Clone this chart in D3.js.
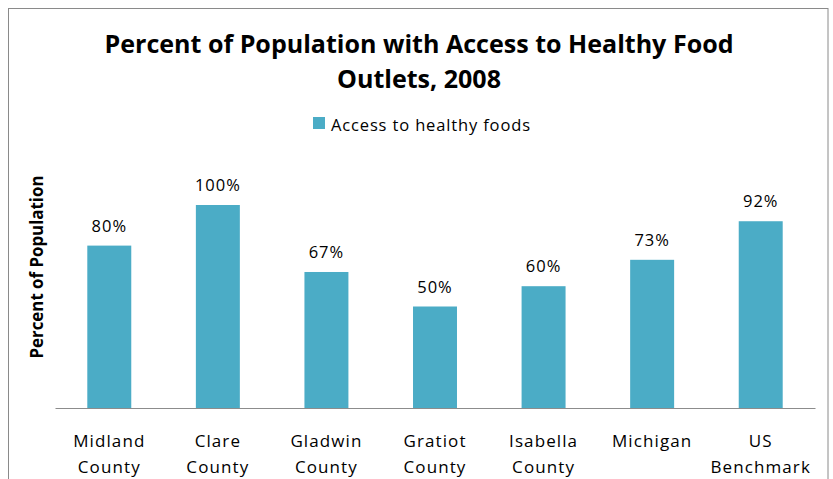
<!DOCTYPE html>
<html>
<head>
<meta charset="utf-8">
<script src="https://cdn.jsdelivr.net/npm/d3@7"></script>
<style>
  html, body { margin: 0; padding: 0; background: #fff; }
  svg { display: block; }
  text { font-family: "Open Sans", "Liberation Sans", sans-serif; fill: #000; }
</style>
</head>
<body>
<svg id="chart" width="833" height="479"></svg>
<script>
// Percent of population with access to healthy food outlets, 2008
const categories = [
  ["Midland", "County"],
  ["Clare", "County"],
  ["Gladwin", "County"],
  ["Gratiot", "County"],
  ["Isabella", "County"],
  ["Michigan"],
  ["US", "Benchmark"]
];
const accessValues = [80, 100, 67, 50, 60, 73, 92];
const titleLines = ["Percent of Population with Access to Healthy Food", "Outlets, 2008"];
const seriesName = "Access to healthy foods";
const yAxisTitle = "Percent of Population";

const svg = d3.select("#chart");
const barColor = "#4bacc6";

// outer frame (open at the bottom edge)
svg.append("rect")
  .attr("x", 8.5).attr("y", 8.5)
  .attr("width", 819.5).attr("height", 500)
  .attr("fill", "none").attr("stroke", "#8a8a8a").attr("stroke-width", 1);

// title
svg.append("g").selectAll("text")
  .data(titleLines).join("text")
  .attr("x", 419)
  .attr("y", (d, i) => 53 + i * 35)
  .attr("text-anchor", "middle")
  .attr("font-size", 25)
  .attr("font-weight", "bold")
  .attr("textLength", (d, i) => i === 0 ? 629 : 164)
  .attr("lengthAdjust", "spacingAndGlyphs")
  .text(d => d);

// legend
const legend = svg.append("g").attr("transform", "translate(313,117)");
legend.append("rect").attr("width", 12).attr("height", 12).attr("fill", barColor);
legend.append("text")
  .attr("x", 18).attr("y", 14)
  .attr("font-size", 16.5)
  .attr("textLength", 199)
  .attr("lengthAdjust", "spacing")
  .text(seriesName);

// scales
const x = d3.scaleBand()
  .domain(d3.range(categories.length))
  .range([55, 815])
  .paddingInner(0.595)
  .paddingOuter(0.2975);

const y = d3.scaleLinear()
  .domain([0, 100])
  .range([408, 205]);

// bars
svg.append("g").selectAll("rect")
  .data(accessValues).join("rect")
  .attr("x", (d, i) => x(i))
  .attr("y", d => y(d))
  .attr("width", x.bandwidth())
  .attr("height", d => y(0) - y(d))
  .attr("fill", barColor);

// value labels
svg.append("g").selectAll("text")
  .data(accessValues).join("text")
  .attr("x", (d, i) => x(i) + x.bandwidth() / 2)
  .attr("y", d => y(d) - 14)
  .attr("text-anchor", "middle")
  .attr("font-size", 16.5)
  .attr("letter-spacing", 1)
  .text(d => d + "%");

// category axis
const xAxis = svg.append("g")
  .attr("transform", `translate(0,${y(0)})`)
  .call(d3.axisBottom(x).tickSize(0).tickFormat(""));
xAxis.select(".domain").attr("stroke", "#8c8c8c").attr("stroke-width", 1.2);

const catLabels = svg.append("g").selectAll("text")
  .data(categories).join("text")
  .attr("x", (d, i) => x(i) + x.bandwidth() / 2)
  .attr("y", 447)
  .attr("text-anchor", "middle")
  .attr("font-size", 17)
  .attr("letter-spacing", 1.1);
catLabels.selectAll("tspan")
  .data(d => d).join("tspan")
  .attr("x", function () { return d3.select(this.parentNode).attr("x"); })
  .attr("dy", (d, i) => i === 0 ? 0 : 26)
  .text(d => d);

// y axis title
svg.append("text")
  .attr("transform", "translate(43,267) rotate(-90)")
  .attr("text-anchor", "middle")
  .attr("font-size", 17)
  .attr("font-weight", "bold")
  .attr("textLength", 183)
  .attr("lengthAdjust", "spacingAndGlyphs")
  .text(yAxisTitle);
</script>
</body>
</html>
